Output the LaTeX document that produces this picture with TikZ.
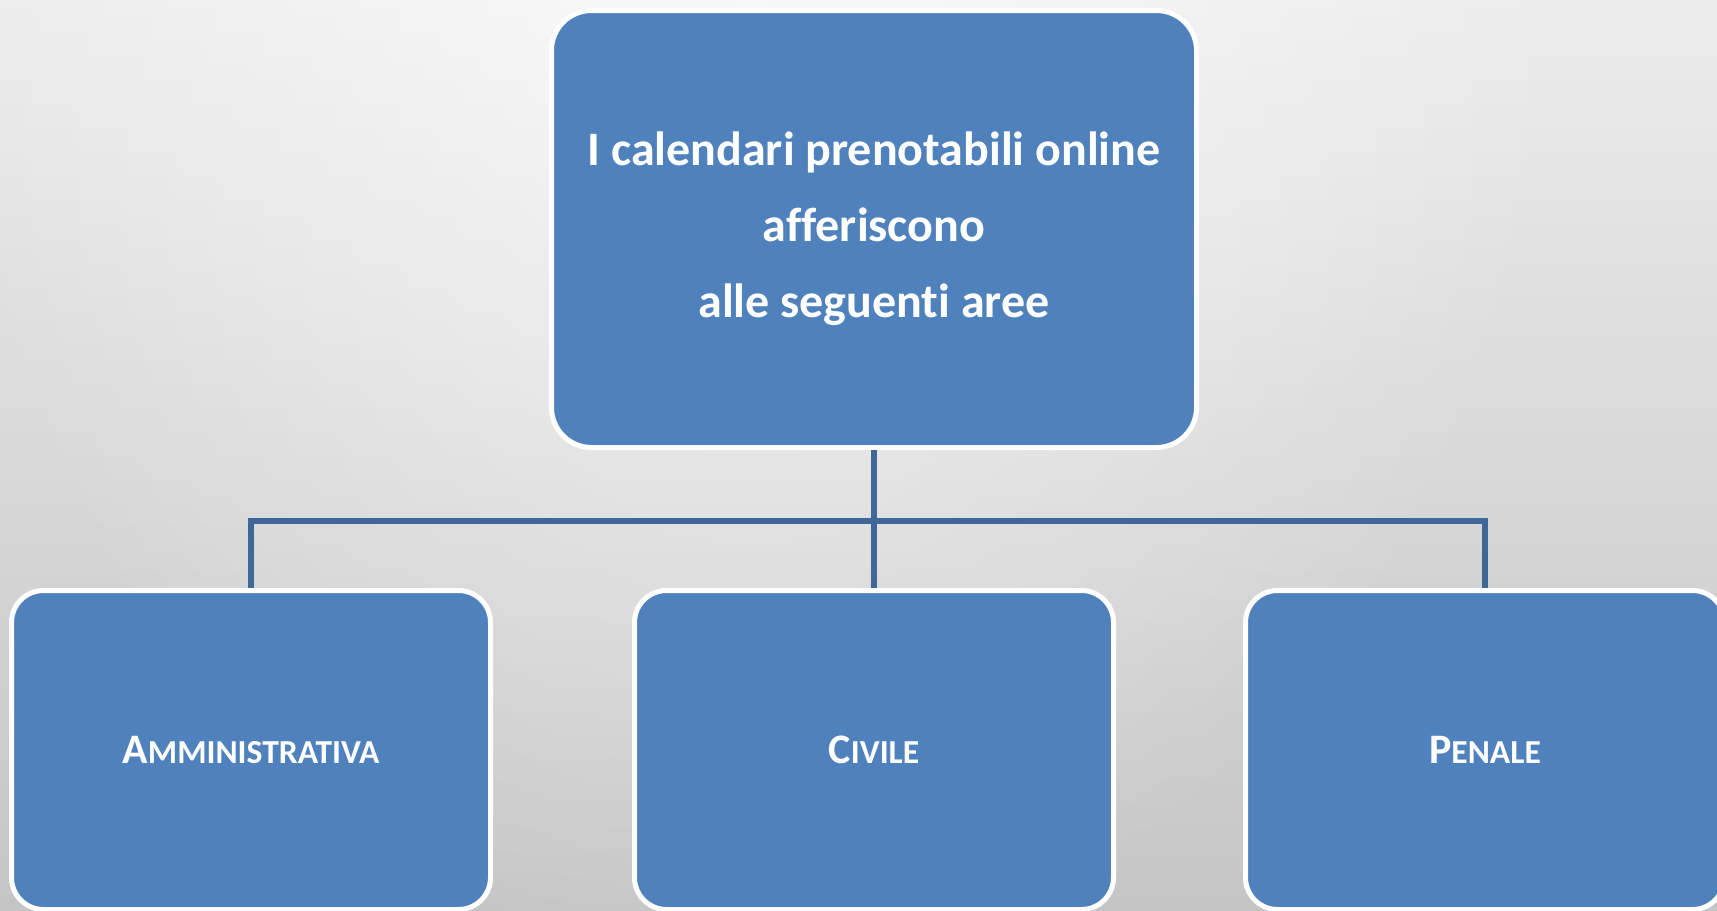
\documentclass[tikz,border=0pt]{standalone}
\usepackage{fontspec}
\setmainfont[Ligatures=NoCommon]{Carlito}
\usetikzlibrary{fadings}
\definecolor{boxblue}{HTML}{4F81BD}
\definecolor{linkblue}{HTML}{3F6797}
\definecolor{bgtop}{HTML}{ECECEC}
\definecolor{bgmid}{HTML}{D1D1D1}
\definecolor{bgbot}{HTML}{C5C5C5}
\tikzfading[name=glowfade, inner color=transparent!0, outer color=transparent!100]
\newcommand{\myscap}[2]{{\fontsize{21pt}{24pt}\selectfont #1}{\fontsize{16.8pt}{20pt}\selectfont #2}}
\begin{document}
\begin{tikzpicture}[x=0.5pt,y=-0.5pt,
  topbox/.style={draw=white, line width=2.5pt, fill=boxblue, rounded corners=20pt,
    minimum width=322.5pt, minimum height=218.5pt, inner sep=0pt, text=white,
    font=\bfseries\fontsize{24pt}{38pt}\selectfont, align=center},
  areabox/.style={draw=white, line width=2.5pt, fill=boxblue, rounded corners=16pt,
    minimum width=239.5pt, minimum height=159.5pt, inner sep=0pt, text=white,
    font=\bfseries},
  link/.style={draw=linkblue, line width=2.7pt, line join=miter}]
\useasboundingbox (0,0) rectangle (1717,910);
\shade[top color=bgtop, middle color=bgmid, bottom color=bgbot] (0,0) rectangle (1717,910);
\begin{scope}
  \clip (0,0) rectangle (1717,910);
  \fill[white, path fading=glowfade, fill opacity=0.7] (750,-100) ellipse [x radius=420pt, y radius=540pt];
\end{scope}
\node[topbox] (top) at (874,229) {I calendari prenotabili online\\afferiscono\\alle seguenti aree};
\node[areabox] (amm) at (251,750) {\myscap{A}{MMINISTRATIVA}};
\node[areabox] (civ) at (874,750) {\myscap{C}{IVILE}};
\node[areabox] (pen) at (1485,750) {\myscap{P}{ENALE}};
\coordinate (bus) at (874,521);
\draw[link] (top.south) -- (bus) -- (civ.north);
\draw[link] (amm.north) |- (bus) -| (pen.north);
\end{tikzpicture}
\end{document}
